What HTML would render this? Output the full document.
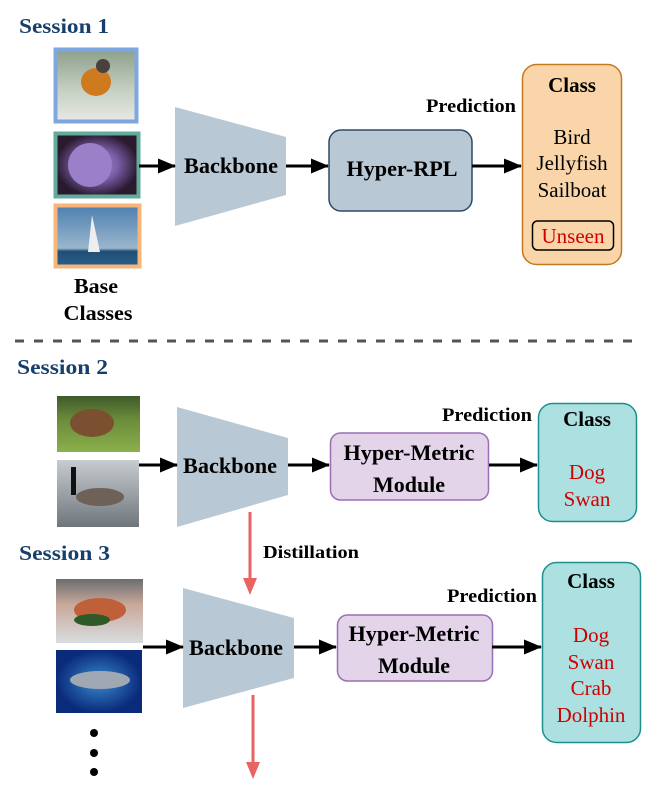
<!DOCTYPE html>
<html><head><meta charset="utf-8"><style>
html,body{margin:0;padding:0;background:#fff;}
svg{display:block;}
text{font-family:"Liberation Serif",serif;}
.b{font-weight:bold;}
</style></head><body>
<svg width="664" height="799" viewBox="0 0 664 799" xmlns="http://www.w3.org/2000/svg">
<defs>
<marker id="ah" markerWidth="18" markerHeight="16" refX="17" refY="8" orient="auto" markerUnits="userSpaceOnUse">
<path d="M0,0.5 L18,8 L0,15.5 Z" fill="#000"/></marker>
<linearGradient id="g1" x1="0" y1="0" x2="0" y2="1"><stop offset="0" stop-color="#8da08a"/><stop offset="0.6" stop-color="#c9d2c6"/><stop offset="1" stop-color="#e8e8e4"/></linearGradient>
<radialGradient id="g2"><stop offset="0" stop-color="#a58ad0"/><stop offset="0.5" stop-color="#7a5ea8"/><stop offset="1" stop-color="#2a1a2e"/></radialGradient>
<linearGradient id="g3" x1="0" y1="0" x2="0" y2="1"><stop offset="0" stop-color="#4d7fb0"/><stop offset="0.7" stop-color="#9ab6cc"/><stop offset="0.75" stop-color="#1f4f77"/><stop offset="1" stop-color="#2a5f87"/></linearGradient>
<linearGradient id="g4" x1="0" y1="0" x2="0" y2="1"><stop offset="0" stop-color="#3e5a2a"/><stop offset="0.4" stop-color="#6a8a3a"/><stop offset="1" stop-color="#8ab04a"/></linearGradient>
<linearGradient id="g5" x1="0" y1="0" x2="0" y2="1"><stop offset="0" stop-color="#c8ccd0"/><stop offset="1" stop-color="#6e767c"/></linearGradient>
<linearGradient id="g6" x1="0" y1="0" x2="0" y2="1"><stop offset="0" stop-color="#6a6e70"/><stop offset="0.4" stop-color="#c9a89a"/><stop offset="1" stop-color="#d8dde0"/></linearGradient>
<radialGradient id="g7"><stop offset="0" stop-color="#3a8ad0"/><stop offset="1" stop-color="#0a2a7a"/></radialGradient>
</defs>

<!-- Session 1 -->
<text x="19" y="33" class="b" font-size="21" fill="#173f6b" textLength="90" lengthAdjust="spacingAndGlyphs">Session 1</text>
<rect x="55.5" y="49.5" width="81" height="72" fill="url(#g1)" stroke="#7ea6df" stroke-width="4"/>
<ellipse cx="96" cy="82" rx="15" ry="14" fill="#d07a20"/>
<circle cx="103" cy="66" r="7" fill="#4a4040"/>
<rect x="55.5" y="133.5" width="83" height="63" fill="url(#g2)" stroke="#63ab9b" stroke-width="4"/>
<ellipse cx="90" cy="165" rx="22" ry="22" fill="#9a80c8"/>
<rect x="55.5" y="205.5" width="84" height="61" fill="url(#g3)" stroke="#f8b57a" stroke-width="4"/>
<path d="M92,215 L100,252 L88,252 Z" fill="#eee"/>
<text x="96" y="293" class="b" font-size="21" text-anchor="middle" textLength="44" lengthAdjust="spacingAndGlyphs">Base</text>
<text x="98" y="320" class="b" font-size="21" text-anchor="middle" textLength="69" lengthAdjust="spacingAndGlyphs">Classes</text>

<path d="M175,107 L286,137 L286,195 L175,226 Z" fill="#b8c8d4"/>
<text x="231" y="173" class="b" font-size="22" text-anchor="middle" textLength="94" lengthAdjust="spacingAndGlyphs">Backbone</text>
<line x1="139" y1="166" x2="175" y2="166" stroke="#000" stroke-width="3" marker-end="url(#ah)"/>
<line x1="286" y1="166" x2="328" y2="166" stroke="#000" stroke-width="3" marker-end="url(#ah)"/>
<rect x="329" y="130" width="143" height="81" rx="12" fill="#b8c8d4" stroke="#2c4a66" stroke-width="1.5"/>
<text x="402" y="176" class="b" font-size="22" text-anchor="middle" textLength="111" lengthAdjust="spacingAndGlyphs">Hyper-RPL</text>
<line x1="472" y1="166" x2="521" y2="166" stroke="#000" stroke-width="3" marker-end="url(#ah)"/>
<text x="426" y="112" class="b" font-size="19" textLength="90" lengthAdjust="spacingAndGlyphs">Prediction</text>
<rect x="522.5" y="64.5" width="99" height="200" rx="14" fill="#f9d5a9" stroke="#c47a1e" stroke-width="1.5"/>
<text x="572" y="92" class="b" font-size="21" text-anchor="middle">Class</text>
<text x="572" y="144" font-size="21" text-anchor="middle">Bird</text>
<text x="572" y="170" font-size="21" text-anchor="middle">Jellyfish</text>
<text x="572" y="197" font-size="21" text-anchor="middle">Sailboat</text>
<rect x="532.5" y="221" width="81" height="29" rx="5" fill="none" stroke="#000" stroke-width="1.5"/>
<text x="573" y="243" font-size="21" text-anchor="middle" fill="#d00000">Unseen</text>

<line x1="15" y1="341" x2="640" y2="341" stroke="#555" stroke-width="3" stroke-dasharray="9 10"/>

<!-- Session 2 -->
<text x="17" y="374" class="b" font-size="21" fill="#173f6b" textLength="91" lengthAdjust="spacingAndGlyphs">Session 2</text>
<rect x="57" y="396" width="83" height="56" fill="url(#g4)"/>
<ellipse cx="92" cy="423" rx="22" ry="14" fill="#7a5030"/>
<rect x="57" y="460" width="82" height="67" fill="url(#g5)"/>
<ellipse cx="100" cy="497" rx="24" ry="9" fill="#6e6258"/>
<rect x="71" y="467" width="5" height="28" fill="#111"/>
<path d="M177,407 L288,438 L288,495 L177,527 Z" fill="#b8c8d4"/>
<text x="230" y="473" class="b" font-size="22" text-anchor="middle" textLength="94" lengthAdjust="spacingAndGlyphs">Backbone</text>
<line x1="139" y1="465" x2="177" y2="465" stroke="#000" stroke-width="3" marker-end="url(#ah)"/>
<line x1="288" y1="465" x2="329" y2="465" stroke="#000" stroke-width="3" marker-end="url(#ah)"/>
<rect x="330.5" y="433" width="158" height="67" rx="10" fill="#e4d4ea" stroke="#9b6fb3" stroke-width="1.5"/>
<text x="409" y="460" class="b" font-size="22" text-anchor="middle" textLength="131" lengthAdjust="spacingAndGlyphs">Hyper-Metric</text>
<text x="409" y="492" class="b" font-size="22" text-anchor="middle">Module</text>
<line x1="489" y1="465" x2="537" y2="465" stroke="#000" stroke-width="3" marker-end="url(#ah)"/>
<text x="442" y="421" class="b" font-size="19" textLength="90" lengthAdjust="spacingAndGlyphs">Prediction</text>
<rect x="538.5" y="403.5" width="98" height="118" rx="14" fill="#ade0e1" stroke="#1e8e8e" stroke-width="1.5"/>
<text x="587" y="426" class="b" font-size="21" text-anchor="middle">Class</text>
<text x="587" y="479" font-size="21" text-anchor="middle" fill="#d00000">Dog</text>
<text x="587" y="506" font-size="21" text-anchor="middle" fill="#d00000">Swan</text>

<line x1="250" y1="512" x2="250" y2="580" stroke="#e86464" stroke-width="3"/>
<path d="M243,578 L257,578 L250,595 Z" fill="#e86464"/>
<text x="263" y="558" class="b" font-size="18" textLength="96" lengthAdjust="spacingAndGlyphs">Distillation</text>

<!-- Session 3 -->
<text x="19" y="560" class="b" font-size="21" fill="#173f6b" textLength="91" lengthAdjust="spacingAndGlyphs">Session 3</text>
<rect x="56" y="579" width="87" height="64" fill="url(#g6)"/>
<ellipse cx="100" cy="610" rx="26" ry="12" fill="#c0603a"/>
<ellipse cx="92" cy="620" rx="18" ry="6" fill="#2e5a28"/>
<rect x="56" y="650" width="86" height="63" fill="url(#g7)"/>
<ellipse cx="100" cy="680" rx="30" ry="9" fill="#a0a8b4"/>
<path d="M183,588 L294,618 L294,678 L183,708 Z" fill="#b8c8d4"/>
<text x="236" y="655" class="b" font-size="22" text-anchor="middle" textLength="94" lengthAdjust="spacingAndGlyphs">Backbone</text>
<line x1="143" y1="647" x2="183" y2="647" stroke="#000" stroke-width="3" marker-end="url(#ah)"/>
<line x1="294" y1="647" x2="336" y2="647" stroke="#000" stroke-width="3" marker-end="url(#ah)"/>
<rect x="337.5" y="615" width="155" height="66" rx="10" fill="#e4d4ea" stroke="#9b6fb3" stroke-width="1.5"/>
<text x="414" y="641" class="b" font-size="22" text-anchor="middle" textLength="131" lengthAdjust="spacingAndGlyphs">Hyper-Metric</text>
<text x="414" y="673" class="b" font-size="22" text-anchor="middle">Module</text>
<line x1="492" y1="647" x2="541" y2="647" stroke="#000" stroke-width="3" marker-end="url(#ah)"/>
<text x="447" y="602" class="b" font-size="19" textLength="90" lengthAdjust="spacingAndGlyphs">Prediction</text>
<rect x="542.5" y="562.5" width="98" height="180" rx="14" fill="#ade0e1" stroke="#1e8e8e" stroke-width="1.5"/>
<text x="591" y="588" class="b" font-size="21" text-anchor="middle">Class</text>
<text x="591" y="642" font-size="21" text-anchor="middle" fill="#d00000">Dog</text>
<text x="591" y="669" font-size="21" text-anchor="middle" fill="#d00000">Swan</text>
<text x="591" y="695" font-size="21" text-anchor="middle" fill="#d00000">Crab</text>
<text x="591" y="722" font-size="21" text-anchor="middle" fill="#d00000">Dolphin</text>

<circle cx="94" cy="733" r="4" fill="#000"/>
<circle cx="94" cy="753" r="4" fill="#000"/>
<circle cx="94" cy="772" r="4" fill="#000"/>
<line x1="253" y1="695" x2="253" y2="764" stroke="#e86464" stroke-width="3"/>
<path d="M246,762 L260,762 L253,779 Z" fill="#e86464"/>
</svg>
</body></html>
